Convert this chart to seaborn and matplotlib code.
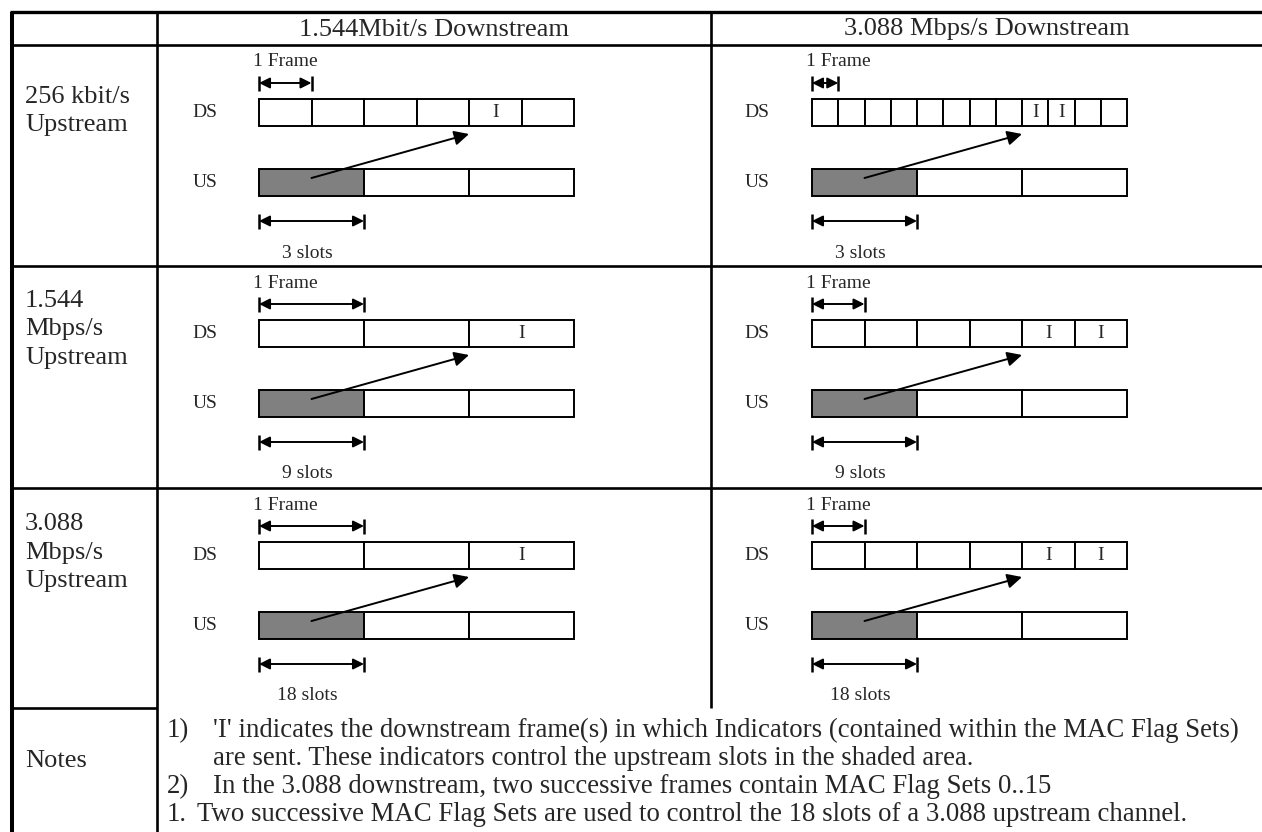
import matplotlib
matplotlib.use("Agg")
import matplotlib.pyplot as plt
import seaborn as sns

sns.set_theme(style="white")
plt.rcParams['font.family'] = ['Liberation Serif', 'DejaVu Serif']

# ============================
# Dados da tabela
# ============================
cabecalhos = ['1.544Mbit/s Downstream', '3.088 Mbps/s Downstream']
rotulos_linhas = [['256 kbit/s', 'Upstream'], ['1.544', 'Mbps/s', 'Upstream'], ['3.088', 'Mbps/s', 'Upstream']]
quadros_ds = [[6, 12], [3, 6], [3, 6]]             # numero de quadros DS por linha/coluna
quadros_i = [[[4], [8, 9]], [[2], [4, 5]], [[2], [4, 5]]]   # quadros com indicador 'I'
celulas_us = 3
rotulos_slots = ['3 slots', '9 slots', '18 slots']
notas_num = ['1)', '', '2)', '1.']
notas_txt = ["'I' indicates the downstream frame(s) in which Indicators (contained within the MAC Flag Sets)",
             "are sent. These indicators control the upstream slots in the shaded area.",
             "In the 3.088 downstream, two successive frames contain MAC Flag Sets 0..15",
             "Two successive MAC Flag Sets are used to control the 18 slots of a 3.088 upstream channel."]

# ============================
# Layout (pixels)
# ============================
W, H = 1262, 832
x_esq, x_c1, x_c2 = 11.5, 157, 711
y_topo, y_cab = 12, 45
y_linhas = [45, 266, 488, 708]
y_rotulo = [103, 307, 530]      # linha de base da primeira linha do rotulo
barra_x0 = [259, 812]
barra_w = 315
rot_x = [205, 757]
gris = '#808080'

fig = plt.figure(figsize=(W / 100, H / 100), dpi=100)
ax = fig.add_axes([0, 0, 1, 1])
ax.set_xlim(0, W)
ax.set_ylim(H, 0)
ax.axis('off')

# grade da tabela
ax.hlines(y_topo, x_esq - 1.5, W, color='black', lw=2.4)
ax.hlines(y_cab, x_esq, W, color='black', lw=1.9)
ax.hlines(y_linhas[1:3], x_esq, W, color='black', lw=1.9)
ax.hlines(y_linhas[3], x_esq, x_c1, color='black', lw=1.9)
ax.vlines(x_esq, y_topo, H, color='black', lw=2.9)
ax.vlines(x_c1, y_topo, H, color='black', lw=1.9)
ax.vlines(x_c2, y_topo, y_linhas[3], color='black', lw=1.9)

# cabecalhos
for j, txt in enumerate(cabecalhos):
    xc = (x_c1 + x_c2) / 2 if j == 0 else (x_c2 + W) / 2
    ax.text(xc, (y_topo + y_cab) / 2 + 1, txt, ha='center', va='center', fontsize=19)


def seta_dupla(x0, x1, y):
    ax.annotate('', xy=(x1, y), xytext=(x0, y),
                arrowprops=dict(arrowstyle='<|-|>', color='black', lw=1.4,
                                mutation_scale=16, shrinkA=0, shrinkB=0))
    ax.vlines([x0, x1], y - 7.5, y + 7.5, color='black', lw=1.8)


for i in range(3):
    y0 = y_linhas[i]
    # rotulo da linha
    for k, linha in enumerate(rotulos_linhas[i]):
        ax.text(25, y_rotulo[i] + k * 28.5, linha, ha='left', va='baseline', fontsize=19)
    for j in range(2):
        bx = barra_x0[j]
        n = quadros_ds[i][j]
        fw = barra_w / n
        # 1 Frame
        ax.text(bx - 6, y0 + 17, '1 Frame', ha='left', va='center', fontsize=14)
        seta_dupla(bx, bx + fw, y0 + 38)
        # DS
        ds_y0, ds_y1 = y0 + 54, y0 + 81
        ax.text(rot_x[j], (ds_y0 + ds_y1) / 2, 'DS', ha='center', va='center', fontsize=14)
        for k in range(n):
            ax.add_patch(plt.Rectangle((bx + k * fw, ds_y0), fw, ds_y1 - ds_y0,
                                       facecolor='white', edgecolor='black', lw=1.4))
            if k in quadros_i[i][j]:
                ax.text(bx + (k + 0.5) * fw, (ds_y0 + ds_y1) / 2, 'I', ha='center', va='center', fontsize=14)
        # US
        us_y0, us_y1 = y0 + 124, y0 + 151
        uw = barra_w / celulas_us
        ax.text(rot_x[j], (us_y0 + us_y1) / 2, 'US', ha='center', va='center', fontsize=14)
        for k in range(celulas_us):
            ax.add_patch(plt.Rectangle((bx + k * uw, us_y0), uw, us_y1 - us_y0,
                                       facecolor=gris if k == 0 else 'white', edgecolor='black', lw=1.4))
        # seta diagonal US -> quadro I
        x_i = bx + quadros_i[i][j][0] * fw
        ax.annotate('', xy=(x_i, ds_y1 + 8), xytext=(bx + uw / 2, us_y0 + 9),
                    arrowprops=dict(arrowstyle='-|>', color='black', lw=1.4,
                                    mutation_scale=22, shrinkA=0, shrinkB=0))
        # slots
        seta_dupla(bx, bx + uw, y0 + 176)
        ax.text(bx + 48, y0 + 208, rotulos_slots[i], ha='center', va='center', fontsize=14)

# notas
ax.text(25, 767, 'Notes', ha='left', va='baseline', fontsize=19)
y_notas = [737, 765, 793, 821]   # linhas de base
for k in range(4):
    xn = 167
    xt = 197 if notas_num[k] == '1.' else 213
    if notas_num[k]:
        ax.text(xn, y_notas[k], notas_num[k], ha='left', va='baseline', fontsize=19.3)
    ax.text(xt, y_notas[k], notas_txt[k], ha='left', va='baseline', fontsize=19.3)

plt.savefig('out.png', dpi=100)
plt.close()
